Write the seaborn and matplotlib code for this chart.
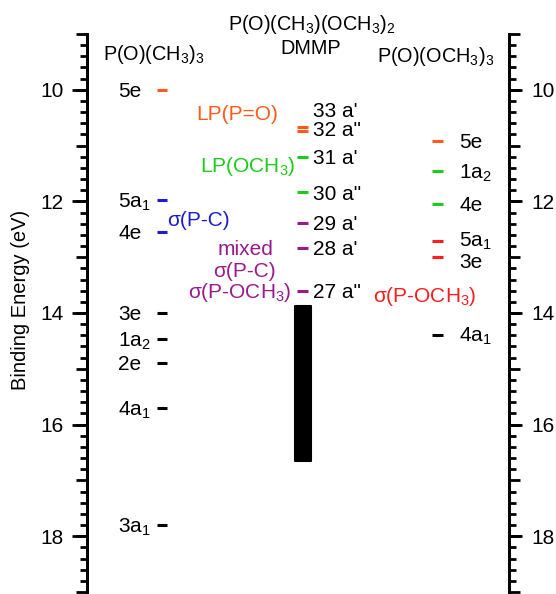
import matplotlib
matplotlib.use("Agg")
import matplotlib.pyplot as plt
import seaborn as sns
import numpy as np
from matplotlib.ticker import MultipleLocator, FixedLocator, NullFormatter

sns.set_theme(style="ticks")
plt.rcParams["font.family"] = ["Liberation Sans", "DejaVu Sans"]
plt.rcParams["mathtext.fontset"] = "custom"
plt.rcParams["mathtext.rm"] = "Liberation Sans"
plt.rcParams["mathtext.it"] = "Liberation Sans"
plt.rcParams["mathtext.default"] = "regular"
plt.rcParams["text.color"] = "black"
plt.rcParams["axes.labelcolor"] = "black"
plt.rcParams["xtick.color"] = "black"
plt.rcParams["ytick.color"] = "black"
plt.rcParams["axes.edgecolor"] = "black"

# ---------------- data ----------------
titles = ["P(O)(CH$_3$)$_3$", "P(O)(CH$_3$)(OCH$_3$)$_2$", "DMMP", "P(O)(OCH$_3$)$_3$"]

tmp_labels = ["5e", "5a$_1$", "4e", "3e", "1a$_2$", "2e", "4a$_1$", "3a$_1$"]
tmp_energy = [10.0, 11.98, 12.55, 14.0, 14.47, 14.9, 15.71, 17.8]
tmp_colors = ["orange", "blue", "blue", "black", "black", "black", "black", "black"]

dmmp_labels = ["33 a'", '32 a"', "31 a'", '30 a"', "29 a'", "28 a'", '27 a"']
dmmp_energy = [10.66, 10.74, 11.2, 11.84, 12.39, 12.83, 13.6]
dmmp_colors = ["orange", "orange", "green", "green", "purple", "purple", "purple"]
dmmp_band = [13.88, 16.66]

tmpo_labels = ["5e", "1a$_2$", "4e", "5a$_1$", "3e", "4a$_1$"]
tmpo_energy = [10.91, 11.46, 12.04, 12.71, 13.0, 14.39]
tmpo_colors = ["orange", "green", "green", "red", "red", "black"]

yticks = [10, 12, 14, 16, 18]

# ---------------- style ----------------
pal = {"orange": "#FF5A1A", "green": "#1CCB1C", "blue": "#1C1CCC",
       "purple": "#991A8C", "red": "#FF1C1C", "black": "#000000"}
FS = 15
FT = 14.3

fig = plt.figure(figsize=(5.56, 5.94), dpi=100)
ax = fig.add_axes([87 / 556, 2 / 594, 422 / 556, 558 / 594])
ax.set_xlim(87, 509)
ax.set_ylim(19, 9)

for s in ["top", "bottom"]:
    ax.spines[s].set_visible(False)
for s in ["left", "right"]:
    ax.spines[s].set_linewidth(2.0)
    ax.spines[s].set_color("black")
ax.set_xticks([])

ax.yaxis.set_major_locator(MultipleLocator(1))
ax.yaxis.set_minor_locator(MultipleLocator(0.2))
ax.yaxis.set_major_formatter(NullFormatter())
ax.tick_params(axis="y", which="major", left=True, right=True, length=7.9, width=2.0, direction="out", color="black")
ax.tick_params(axis="y", which="minor", left=True, right=True, length=5.0, width=2.0, direction="out", color="black")

for side, length, pad in [("left", 10.8, 6.0), ("right", 9.6, 6.5)]:
    sec = ax.secondary_yaxis(side)
    sec.yaxis.set_major_locator(FixedLocator(yticks))
    sec.yaxis.set_minor_locator(FixedLocator([]))
    sec.set_yticklabels([str(t) for t in yticks], fontsize=FS)
    sec.tick_params(axis="y", which="major", length=length, width=2.0, pad=pad, color="black", labelcolor="black")
    sec.spines[side].set_linewidth(2.0)
    sec.spines[side].set_color("black")

fig.text(21 / 556, 1 - 300 / 594, "Binding Energy (eV)", rotation=90, ha="center", va="center", fontsize=14.5, color="black")

# ---------------- levels ----------------
lw = 2.2
base = 0.13  # baseline offset of labels below level


def draw_col(energies, colors, labels, x0, x1, xl, shifts=None):
    for i, (e, c, lab) in enumerate(zip(energies, colors, labels)):
        ax.hlines(e, x0, x1, color=pal[c], lw=lw)
        sh = 0 if shifts is None else shifts[i]
        ax.text(xl, e + base + sh, lab, ha="left", va="baseline", fontsize=FS, color="black")


draw_col(tmp_energy, tmp_colors, tmp_labels, 157, 167, 118)
draw_col(dmmp_energy, dmmp_colors, dmmp_labels, 297, 308, 313,
         shifts=[-0.305, -0.045, 0, 0, 0, 0, 0])
draw_col(tmpo_energy, tmpo_colors, tmpo_labels, 432, 443, 459,
         shifts=[0, 0, 0, -0.02, 0.07, 0])

# band of DMMP
ax.bar([303], [dmmp_band[1] - dmmp_band[0]], bottom=[dmmp_band[0]], width=16.5,
       color="black", edgecolor="black", linewidth=1.5, joinstyle="round")

# titles
ax.text(103, 9.462, titles[0], ha="left", va="baseline", fontsize=FT, clip_on=False)
ax.text(312, 8.925, titles[1], ha="center", va="baseline", fontsize=FT, clip_on=False)
ax.text(311, 9.355, titles[2], ha="center", va="baseline", fontsize=FT, clip_on=False)
ax.text(377, 9.50, titles[3], ha="left", va="baseline", fontsize=FT, clip_on=False)

# annotations
ax.text(278, 10.54, "LP(P=O)", ha="right", va="baseline", fontsize=FS, color=pal["orange"])
ax.text(295, 11.47, "LP(OCH$_3$)", ha="right", va="baseline", fontsize=FS, color=pal["green"])
ax.text(167, 12.44, "σ(P-C)", ha="left", va="baseline", fontsize=FS, color=pal["blue"])
ax.text(245, 12.96, "mixed", ha="center", va="baseline", fontsize=FS, color=pal["purple"])
ax.text(244, 13.35, "σ(P-C)", ha="center", va="baseline", fontsize=FS, color=pal["purple"])
ax.text(292, 13.73, "σ(P-OCH$_3$)", ha="right", va="baseline", fontsize=FS, color=pal["purple"])
ax.text(373, 13.80, "σ(P-OCH$_3$)", ha="left", va="baseline", fontsize=FS, color=pal["red"])

fig.savefig("out.png", dpi=100)
